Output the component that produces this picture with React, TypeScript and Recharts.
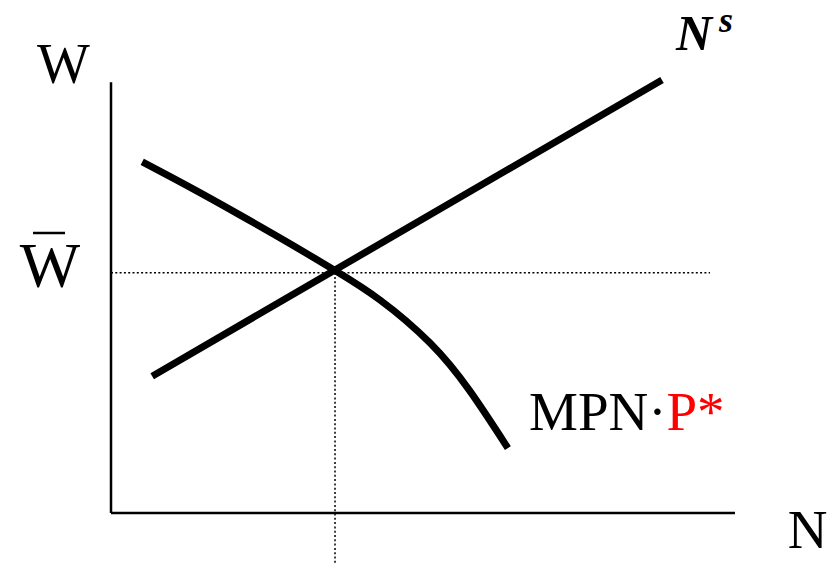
import React from "react";
import { LineChart, Line, XAxis, YAxis, ReferenceLine, Customized } from "recharts";

// Labour supply curve N^s
const laborSupplyN = [6.6, 88.3];
const laborSupplyW = [31.6, 100];

// Labour demand curve MPN·P*
const laborDemandN = [5.0, 12.7, 20.7, 28.7, 35.9, 43.1, 51.1, 57.5, 63.6];
const laborDemandW = [81.1, 75.2, 68.8, 62.2, 56.0, 49.2, 39.3, 28.2, 15.0];

// Equilibrium
const eqN = 35.9;
const eqW = 55.5;
const wageLineEnd = 96;
const employmentLineEnd = -12;

// Axis extents
const axisMax = 100;

const supplyData = laborSupplyN.map((n, i) => ({ n, w: laborSupplyW[i] }));
const demandData = laborDemandN.map((n, i) => ({ n, w: laborDemandW[i] }));

const serif = '"Liberation Serif", "Times New Roman", serif';

const Labels = () => (
  <g>
    <text x={63.5} y={83} textAnchor="middle" fontFamily={serif} fontSize={56} fill="#000">
      W
    </text>
    <text x={50} y={287} textAnchor="middle" fontFamily={serif} fontSize={64} fill="#000">
      W
    </text>
    <line x1={33} y1={233} x2={65} y2={233} stroke="#000" strokeWidth={2.5} />
    <text x={807.5} y={548} textAnchor="middle" fontFamily={serif} fontSize={55} fill="#000">
      N
    </text>
    <text x={529} y={430} fontFamily={serif} fontSize={55} fill="#000">
      MPN·<tspan fill="#FF0000">P*</tspan>
    </text>
    <text x={676} y={50} fontFamily={serif} fontSize={50} fontWeight="bold" fontStyle="italic" fill="#000">
      N
    </text>
    <text x={719} y={32} fontFamily={serif} fontSize={36} fontWeight="bold" fontStyle="italic" fill="#000">
      s
    </text>
  </g>
);

export default function App() {
  return (
    <div style={{ position: "absolute", left: 0, top: 0, width: 837, height: 565, background: "#fff" }}>
      <LineChart width={837} height={565} margin={{ top: 80, right: 102, bottom: 52, left: 111 }}>
        <XAxis type="number" dataKey="n" domain={[0, axisMax]} hide allowDataOverflow />
        <YAxis type="number" dataKey="w" domain={[0, axisMax]} hide />
        <ReferenceLine
          segment={[{ x: 0, y: 0 }, { x: axisMax, y: 0 }]}
          stroke="#000"
          strokeWidth={2.5}
          ifOverflow="visible"
        />
        <ReferenceLine
          segment={[{ x: 0, y: 0 }, { x: 0, y: axisMax - 0.5 }]}
          stroke="#000"
          strokeWidth={2.5}
          ifOverflow="visible"
        />
        <ReferenceLine
          segment={[{ x: 0, y: eqW }, { x: wageLineEnd, y: eqW }]}
          stroke="#000"
          strokeWidth={1.5}
          strokeDasharray="2 2.3"
          ifOverflow="visible"
        />
        <ReferenceLine
          segment={[{ x: eqN, y: eqW }, { x: eqN, y: employmentLineEnd }]}
          stroke="#000"
          strokeWidth={1.5}
          strokeDasharray="2 2.3"
          ifOverflow="visible"
        />
        <Line
          data={supplyData}
          dataKey="w"
          type="linear"
          stroke="#000"
          strokeWidth={7}
          dot={false}
          activeDot={false}
          isAnimationActive={false}
        />
        <Line
          data={demandData}
          dataKey="w"
          type="natural"
          stroke="#000"
          strokeWidth={7}
          dot={false}
          activeDot={false}
          isAnimationActive={false}
        />
        <Customized component={Labels} />
      </LineChart>
    </div>
  );
}
